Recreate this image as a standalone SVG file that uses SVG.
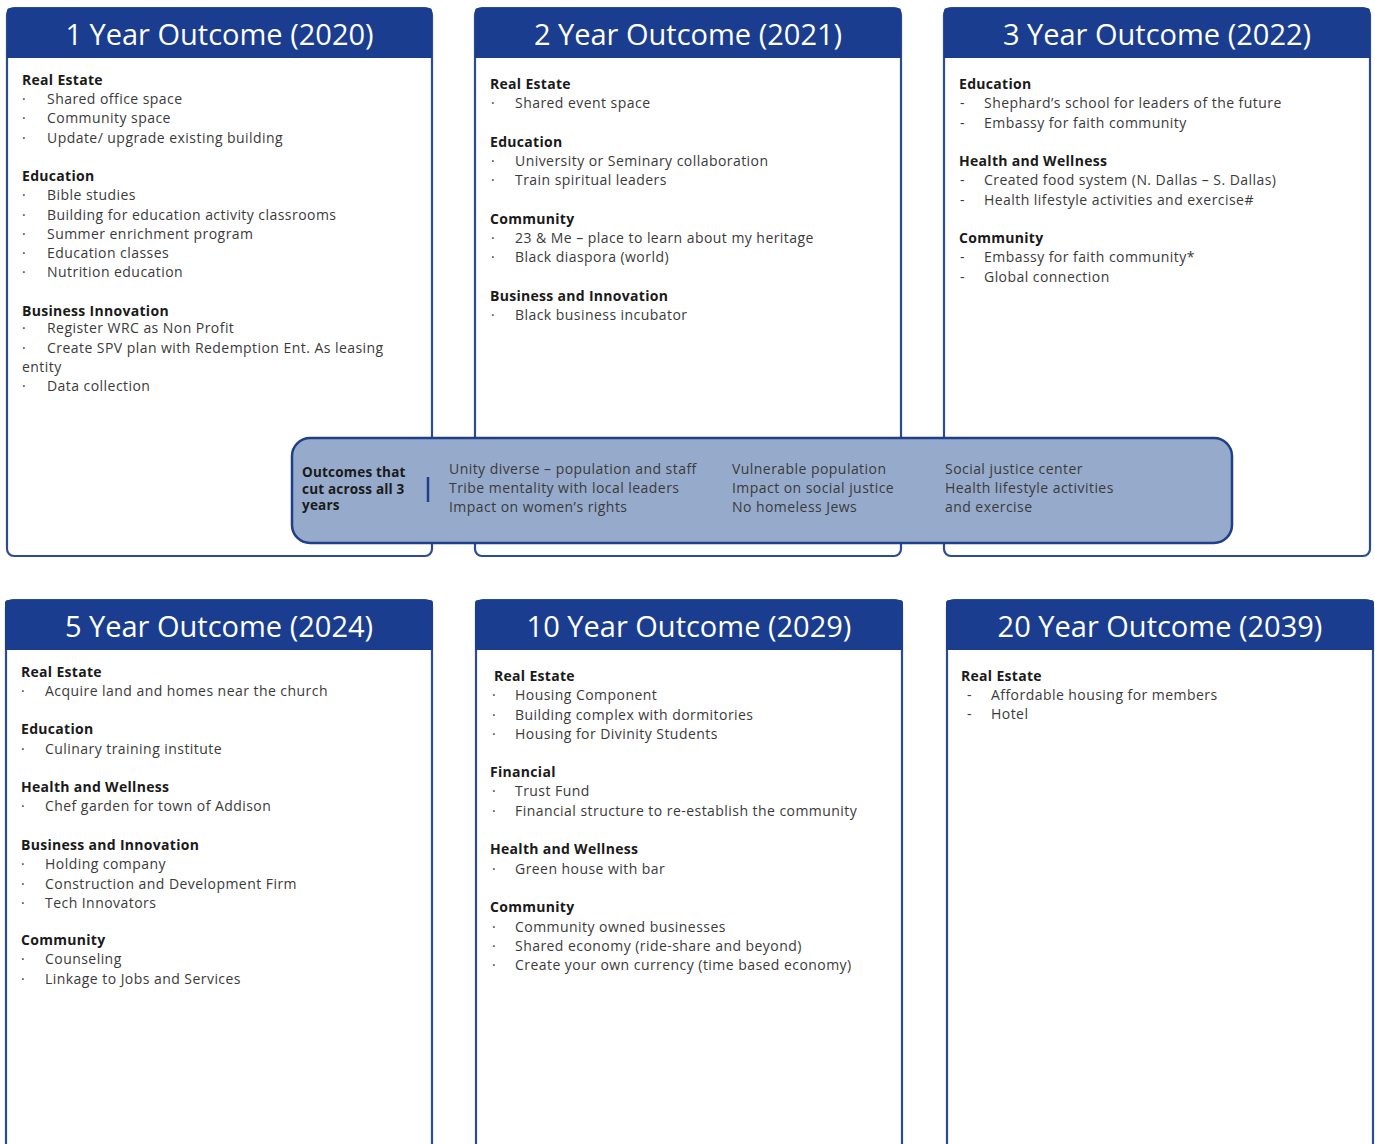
<svg xmlns="http://www.w3.org/2000/svg" width="1375" height="1144" viewBox="0 0 1375 1144">
<style>
.panel{fill:#fff;stroke:#2b4b93;stroke-width:2.2}
.head{fill:#1b3d8f}
.hd{font-family:"Open Sans","Liberation Sans",sans-serif;font-size:29px;fill:#fff;text-anchor:middle}
.h{font-family:"Open Sans","Liberation Sans",sans-serif;font-size:14px;font-weight:bold;fill:#1a1a1a;letter-spacing:0.3px}
.t{font-family:"Open Sans","Liberation Sans",sans-serif;font-size:14px;fill:#3a3a3a;letter-spacing:0.45px}
.band{fill:#96aacb;stroke:#1f3f88;stroke-width:2.5}
.bh{font-family:"Open Sans","Liberation Sans",sans-serif;font-size:13.5px;font-weight:bold;fill:#1a1a1a;letter-spacing:0.2px}
.bt{font-family:"Open Sans","Liberation Sans",sans-serif;font-size:14px;fill:#3a3a3a;letter-spacing:0.45px}
</style>
<rect width="1375" height="1144" fill="#fff"/>

<g id="panel-1yr">
<rect class="panel" x="7" y="8" width="425" height="548" rx="7"/>
<path class="head" d="M7,58 V11 Q7,8 10,8 H429 Q432,8 432,11 V58 Z"/>
<text class="hd" x="219.5" y="45">1 Year Outcome (2020)</text>
<text class="h" x="22" y="85">Real Estate</text>
<text class="t" x="22" y="104">·</text><text class="t" x="47" y="104">Shared office space</text>
<text class="t" x="22" y="123">·</text><text class="t" x="47" y="123">Community space</text>
<text class="t" x="22" y="143">·</text><text class="t" x="47" y="143">Update/ upgrade existing building</text>
<text class="h" x="22" y="181">Education</text>
<text class="t" x="22" y="200">·</text><text class="t" x="47" y="200">Bible studies</text>
<text class="t" x="22" y="220">·</text><text class="t" x="47" y="220">Building for education activity classrooms</text>
<text class="t" x="22" y="239">·</text><text class="t" x="47" y="239">Summer enrichment program</text>
<text class="t" x="22" y="258">·</text><text class="t" x="47" y="258">Education classes</text>
<text class="t" x="22" y="277">·</text><text class="t" x="47" y="277">Nutrition education</text>
<text class="h" x="22" y="316">Business Innovation</text>
<text class="t" x="22" y="333">·</text><text class="t" x="47" y="333">Register WRC as Non Profit</text>
<text class="t" x="22" y="353">·</text><text class="t" x="47" y="353">Create SPV plan with Redemption Ent. As leasing</text>
<text class="t" x="22" y="372">entity</text>
<text class="t" x="22" y="391">·</text><text class="t" x="47" y="391">Data collection</text>
</g>

<g id="panel-2yr">
<rect class="panel" x="475" y="8" width="426" height="548" rx="7"/>
<path class="head" d="M475,58 V11 Q475,8 478,8 H898 Q901,8 901,11 V58 Z"/>
<text class="hd" x="688" y="45">2 Year Outcome (2021)</text>
<text class="h" x="490" y="89">Real Estate</text>
<text class="t" x="491" y="108">·</text><text class="t" x="515" y="108">Shared event space</text>
<text class="h" x="490" y="147">Education</text>
<text class="t" x="491" y="166">·</text><text class="t" x="515" y="166">University or Seminary collaboration</text>
<text class="t" x="491" y="185">·</text><text class="t" x="515" y="185">Train spiritual leaders</text>
<text class="h" x="490" y="224">Community</text>
<text class="t" x="491" y="243">·</text><text class="t" x="515" y="243">23 &amp; Me – place to learn about my heritage</text>
<text class="t" x="491" y="262">·</text><text class="t" x="515" y="262">Black diaspora (world)</text>
<text class="h" x="490" y="301">Business and Innovation</text>
<text class="t" x="491" y="320">·</text><text class="t" x="515" y="320">Black business incubator</text>
</g>

<g id="panel-3yr">
<rect class="panel" x="944" y="8" width="426" height="548" rx="7"/>
<path class="head" d="M944,58 V11 Q944,8 947,8 H1367 Q1370,8 1370,11 V58 Z"/>
<text class="hd" x="1157" y="45">3 Year Outcome (2022)</text>
<text class="h" x="959" y="89">Education</text>
<text class="t" x="960" y="108">-</text><text class="t" x="984" y="108">Shephard’s school for leaders of the future</text>
<text class="t" x="960" y="128">-</text><text class="t" x="984" y="128">Embassy for faith community</text>
<text class="h" x="959" y="166">Health and Wellness</text>
<text class="t" x="960" y="185">-</text><text class="t" x="984" y="185">Created food system (N. Dallas – S. Dallas)</text>
<text class="t" x="960" y="205">-</text><text class="t" x="984" y="205">Health lifestyle activities and exercise#</text>
<text class="h" x="959" y="243">Community</text>
<text class="t" x="960" y="262">-</text><text class="t" x="984" y="262">Embassy for faith community*</text>
<text class="t" x="960" y="282">-</text><text class="t" x="984" y="282">Global connection</text>
</g>

<g id="band-cross-cutting">
<rect class="band" x="292" y="438" width="940" height="105" rx="18"/>
<text class="bh" x="302" y="477">Outcomes that</text>
<text class="bh" x="302" y="494">cut across all 3</text>
<text class="bh" x="302" y="510">years</text>
<line x1="428" y1="477" x2="428" y2="502" stroke="#1f3f88" stroke-width="2.5"/>
<text class="bt" x="449" y="474">Unity diverse – population and staff</text>
<text class="bt" x="449" y="493">Tribe mentality with local leaders</text>
<text class="bt" x="449" y="512">Impact on women’s rights</text>
<text class="bt" x="732" y="474">Vulnerable population</text>
<text class="bt" x="732" y="493">Impact on social justice</text>
<text class="bt" x="732" y="512">No homeless Jews</text>
<text class="bt" x="945" y="474">Social justice center</text>
<text class="bt" x="945" y="493">Health lifestyle activities</text>
<text class="bt" x="945" y="512">and exercise</text>
</g>

<g id="panel-5yr">
<rect class="panel" x="6" y="600" width="426" height="570" rx="7"/>
<path class="head" d="M5,650 V603 Q5,600 8,600 H430 Q433,600 433,603 V650 Z"/>
<text class="hd" x="219" y="637">5 Year Outcome (2024)</text>
<text class="h" x="21" y="677">Real Estate</text>
<text class="t" x="21" y="696">·</text><text class="t" x="45" y="696">Acquire land and homes near the church</text>
<text class="h" x="21" y="734">Education</text>
<text class="t" x="21" y="754">·</text><text class="t" x="45" y="754">Culinary training institute</text>
<text class="h" x="21" y="792">Health and Wellness</text>
<text class="t" x="21" y="811">·</text><text class="t" x="45" y="811">Chef garden for town of Addison</text>
<text class="h" x="21" y="850">Business and Innovation</text>
<text class="t" x="21" y="869">·</text><text class="t" x="45" y="869">Holding company</text>
<text class="t" x="21" y="889">·</text><text class="t" x="45" y="889">Construction and Development Firm</text>
<text class="t" x="21" y="908">·</text><text class="t" x="45" y="908">Tech Innovators</text>
<text class="h" x="21" y="945">Community</text>
<text class="t" x="21" y="964">·</text><text class="t" x="45" y="964">Counseling</text>
<text class="t" x="21" y="984">·</text><text class="t" x="45" y="984">Linkage to Jobs and Services</text>
</g>

<g id="panel-10yr">
<rect class="panel" x="476" y="600" width="426" height="570" rx="7"/>
<path class="head" d="M475,650 V603 Q475,600 478,600 H900 Q903,600 903,603 V650 Z"/>
<text class="hd" x="689" y="637">10 Year Outcome (2029)</text>
<text class="h" x="494" y="681">Real Estate</text>
<text class="t" x="492" y="700">·</text><text class="t" x="515" y="700">Housing Component</text>
<text class="t" x="492" y="720">·</text><text class="t" x="515" y="720">Building complex with dormitories</text>
<text class="t" x="492" y="739">·</text><text class="t" x="515" y="739">Housing for Divinity Students</text>
<text class="h" x="490" y="777">Financial</text>
<text class="t" x="492" y="796">·</text><text class="t" x="515" y="796">Trust Fund</text>
<text class="t" x="492" y="816">·</text><text class="t" x="515" y="816">Financial structure to re-establish the community</text>
<text class="h" x="490" y="854">Health and Wellness</text>
<text class="t" x="492" y="874">·</text><text class="t" x="515" y="874">Green house with bar</text>
<text class="h" x="490" y="912">Community</text>
<text class="t" x="492" y="932">·</text><text class="t" x="515" y="932">Community owned businesses</text>
<text class="t" x="492" y="951">·</text><text class="t" x="515" y="951">Shared economy (ride-share and beyond)</text>
<text class="t" x="492" y="970">·</text><text class="t" x="515" y="970">Create your own currency (time based economy)</text>
</g>

<g id="panel-20yr">
<rect class="panel" x="947" y="600" width="426" height="570" rx="7"/>
<path class="head" d="M946,650 V603 Q946,600 949,600 H1371 Q1374,600 1374,603 V650 Z"/>
<text class="hd" x="1160" y="637">20 Year Outcome (2039)</text>
<text class="h" x="961" y="681">Real Estate</text>
<text class="t" x="967" y="700">-</text><text class="t" x="991" y="700">Affordable housing for members</text>
<text class="t" x="967" y="719">-</text><text class="t" x="991" y="719">Hotel</text>
</g>

<g id="connectors"/>
</svg>
